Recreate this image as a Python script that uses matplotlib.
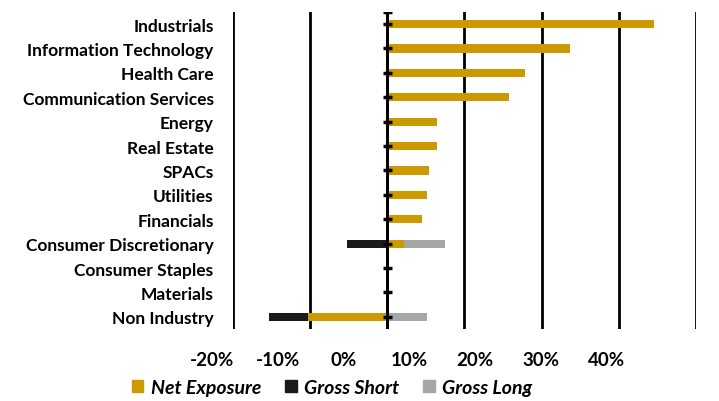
import matplotlib.pyplot as plt
import numpy as np
from matplotlib.patches import Patch

# sectors, top to bottom
sectors = ['Industrials', 'Information Technology', 'Health Care', 'Communication Services',
           'Energy', 'Real Estate', 'SPACs', 'Utilities', 'Financials',
           'Consumer Discretionary', 'Consumer Staples', 'Materials', 'Non Industry']

# stacked segment values in % (Excel-style stacking: + to the right, - to the left)
net_exposure = [34.6, 23.7, 17.8, 15.8, 6.4, 6.4, 5.4, 5.1, 4.5, 2.2, 0, 0, -10.3]
gross_short = [0, 0, 0, 0, 0, 0, 0, 0, 0, -5.2, 0, 0, -5.0]
gross_long = [0, 0, 0, 0, 0, 0, 0, 0, 0, 5.3, 0, 0, 5.1]

x_ticks = [-20, -10, 0, 10, 20, 30, 40]

c_net = '#cc9900'
c_short = '#1a1a1a'
c_long = '#a6a6a6'

plt.rcParams['font.family'] = ['Lato', 'DejaVu Sans']

fig = plt.figure(figsize=(7.19, 4.02), dpi=100)
ax = fig.add_axes([0.324, 0.179, 0.644, 0.789])

y = np.arange(len(sectors))
pos = np.zeros(len(sectors))
neg = np.zeros(len(sectors))
for vals, col in [(net_exposure, c_net), (gross_short, c_short), (gross_long, c_long)]:
    vals = np.array(vals, dtype=float)
    left = np.where(vals >= 0, pos, neg)
    ax.barh(y, vals, left=left, height=0.34, color=col, zorder=3)
    pos = pos + np.clip(vals, 0, None)
    neg = neg + np.clip(vals, None, 0)

ax.set_xlim(-20, 40)
ax.set_ylim(len(sectors) - 0.5, -0.5)
ax.set_xticks(x_ticks)
ax.xaxis.grid(True, color='black', lw=2)
ax.set_axisbelow(True)
ax.tick_params(axis='x', length=0, labelbottom=False)
for s in ax.spines.values():
    s.set_visible(False)

# category labels
ax.set_yticks(y)
ax.set_yticklabels(sectors, fontsize=12.5, fontweight='bold')
ax.tick_params(axis='y', length=0, pad=14)

# zero axis with crossing ticks
ax.axvline(0, color='black', lw=2, zorder=4)
for yy in list(y) + [-0.5]:
    ax.plot([-0.6, 0.6], [yy, yy], color='black', lw=2.5, zorder=5, solid_capstyle='butt')

# x tick labels (offset scale as in the source)
lab_ax = fig.add_axes([212.5 / 719, 0.125, (606.7 - 212.5) / 719, 0.001])
lab_ax.set_xlim(-20, 40)
lab_ax.set_xticks(x_ticks)
lab_ax.set_xticklabels([f'{t}%' for t in x_ticks], fontsize=13.5, fontweight='bold')
lab_ax.tick_params(axis='x', length=0, pad=0)
lab_ax.set_yticks([])
lab_ax.patch.set_visible(False)
for s in lab_ax.spines.values():
    s.set_visible(False)

handles = [Patch(color=c_net), Patch(color=c_short), Patch(color=c_long)]
fig.legend(handles, ['Net Exposure', 'Gross Short', 'Gross Long'], loc='center',
           bbox_to_anchor=(0.462, 0.034), ncol=3, frameon=False,
           prop={'size': 14, 'weight': 'bold', 'style': 'italic'},
           handlelength=0.6, handleheight=0.6, handletextpad=0.4, columnspacing=1.2)

fig.savefig('out.png', dpi=100)
